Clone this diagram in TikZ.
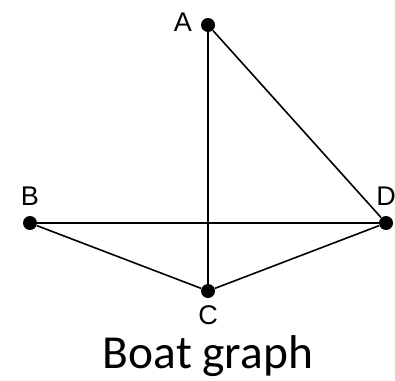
\documentclass[tikz,border=0pt]{standalone}
\usepackage{fontspec}
\setmainfont{Liberation Sans}
\newfontfamily\captionfont{Carlito}
\usepackage{tikz}
\usepackage{xcolor}

\begin{document}
\begin{tikzpicture}[x=0.5pt,y=-0.5pt,font=\fontsize{13.5}{16}\selectfont,
  vert/.style={circle,fill=black,inner sep=0pt,minimum size=7pt},
  edge/.style={line width=0.8pt},
  lbl/.style={anchor=base,inner sep=0pt}]
  \useasboundingbox (0,0) rectangle (395,380);
  \node[vert] (A) at (208,25) {};
  \node[vert] (B) at (30,223) {};
  \node[vert] (C) at (208,291) {};
  \node[vert] (D) at (386,223) {};
  \foreach \u/\v in {A/C,A/D,B/D,B/C,C/D}{ \draw[edge] (\u) -- (\v); }
  \node[lbl] (lA) at (183,32) {A};
  \node[lbl] (lB) at (30,205) {B};
  \node[lbl] (lC) at (208,324) {C};
  \node[lbl] (lD) at (386,205) {D};
  \node[lbl,font=\captionfont\fontsize{23.7}{28}\selectfont] (cap) at (208,368) {Boat graph};
\end{tikzpicture}
\end{document}
